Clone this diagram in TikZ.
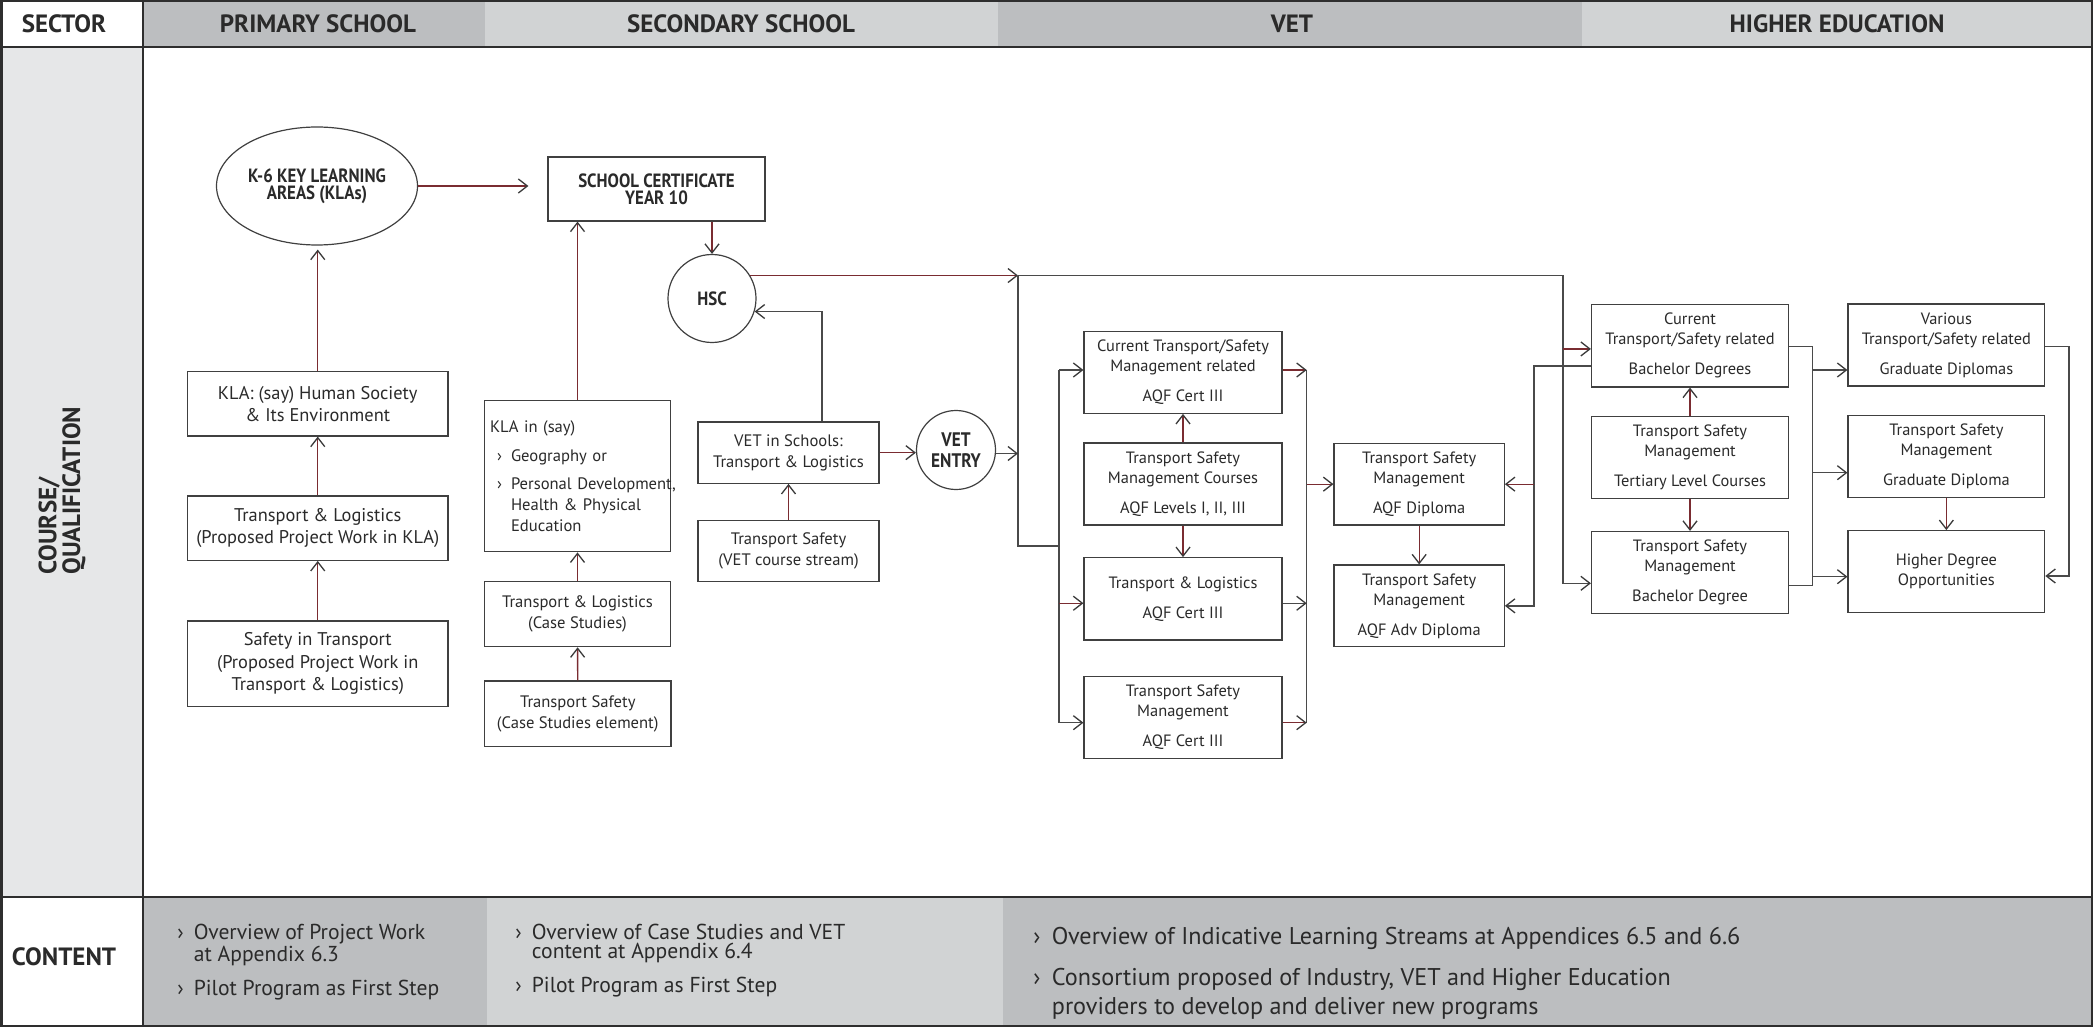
\documentclass[tikz,border=0pt]{standalone}
\usepackage{fontspec}
\setmainfont{PT Sans}
\newfontfamily\condfont{PT Sans}[FakeStretch=0.88]
\usetikzlibrary{arrows.meta,shapes.geometric,calc}

\definecolor{hdark}{HTML}{BCBEC0}
\definecolor{hlight}{HTML}{D1D3D4}
\definecolor{colbg}{HTML}{E6E7E8}
\definecolor{gridc}{HTML}{2E2E2E}
\definecolor{boxc}{HTML}{404040}
\definecolor{maroon}{HTML}{7A2C31}
\definecolor{darkl}{HTML}{4A4A4A}
\definecolor{tipc}{HTML}{3A3A3A}
\definecolor{txt}{HTML}{2A2A2A}

% bullet of a given width
\newcommand\bl[1]{\makebox[#1][l]{›}}

\tikzset{
  grid/.style={draw=gridc,line width=1.25pt},
  box/.style={draw=boxc,line width=0.6pt,fill=white,inner sep=0pt,align=center,text=txt},
  wh/.style 2 args={minimum width=#1*0.5pt,minimum height=#2*0.5pt},
  pA/.style={font=\fontsize{9.2}{11.2}\selectfont},
  pB/.style={font=\fontsize{8.3}{10.4}\selectfont},
  pC/.style={font=\fontsize{8.2}{10}\selectfont},
  ttl/.style={font=\condfont\bfseries\fontsize{9.6}{8.4}\selectfont},
  hdr/.style={font=\bfseries\fontsize{12.5}{11.8}\selectfont,text=txt,inner sep=0pt},
  ctA/.style={font=\fontsize{10.8}{9.4}\selectfont,text=txt,inner sep=0pt,align=left},
  ctB/.style={font=\fontsize{12.1}{14.2}\selectfont,text=txt,inner sep=0pt,align=left},
  mline/.style={draw=maroon,line width=0.65pt},
  gline/.style={draw=darkl,line width=0.65pt},
  arr/.style={-{Straight Barb[length=4.5pt,width=7pt,color=tipc]}}
}

\begin{document}
\begin{tikzpicture}[x=0.5pt,y=-0.5pt]
\useasboundingbox (0,0) rectangle (2093,1027);

% ---------- table frame ----------
\fill[white] (0,0) rectangle (2093,1027);
\fill[hdark]  (143,0) rectangle (485,47);
\fill[hlight] (485,0) rectangle (998,47);
\fill[hdark]  (998,0) rectangle (1582,47);
\fill[hlight] (1582,0) rectangle (2093,47);
\fill[colbg]  (0,47) rectangle (143,897);
\fill[hdark]  (143,897) rectangle (487,1027);
\fill[hlight] (487,897) rectangle (1003,1027);
\fill[hdark]  (1003,897) rectangle (2093,1027);
\draw[grid] (1.25,1.25) rectangle (2091.75,1025.75);
\draw[grid] (0,47) -- (2093,47);
\draw[grid] (0,897) -- (2093,897);
\draw[grid] (143,0) -- (143,1027);

% ---------- header and side labels ----------
\node[hdr] (hsector) at (64,24) {SECTOR};
\node[hdr] (hprim) at (318,24) {PRIMARY SCHOOL};
\node[hdr] (hsec) at (741,24) {SECONDARY SCHOOL};
\node[hdr] (hvet) at (1292,24) {VET};
\node[hdr] (hhe) at (1837,24) {HIGHER EDUCATION};
\node[hdr,rotate=90,anchor=west,align=left] (hcq) at (62,575) {COURSE/\\QUALIFICATION};
\node[hdr] (hcontent) at (64,957) {CONTENT};

% ---------- content row ----------
\node[ctA,anchor=north west] (cprim) at (177,924)
  {\bl{8.25pt}Overview of Project Work\\\hspace*{8.25pt}at Appendix 6.3\\[6.1pt]\bl{8.25pt}Pilot Program as First Step};
\node[ctA,anchor=north west] (csec) at (515,924)
  {\bl{8.25pt}Overview of Case Studies and VET\\\hspace*{8.25pt}content at Appendix 6.4\\[6.1pt]\bl{8.25pt}Pilot Program as First Step};
\node[ctB,anchor=north west] (cvet) at (1033,927)
  {\bl{9.25pt}Overview of Indicative Learning Streams at Appendices 6.5 and 6.6\\[6.4pt]\bl{9.25pt}Consortium proposed of Industry, VET and Higher Education\\\hspace*{9.25pt}providers to develop and deliver new programs};

% ---------- primary school ----------
\node[ellipse,draw=boxc,line width=0.6pt,fill=white,inner sep=0pt,wh={201}{118},align=center,ttl,text=txt] (k6) at (317,186) {K-6 KEY LEARNING\\AREAS (KLAs)};
\node[box,pA,wh={260.5}{64.3}] (hum) at (317.75,403.85) {KLA: (say) Human Society\\\& Its Environment};
\node[box,pA,wh={260.5}{64.3}] (tlp) at (317.75,528.15) {Transport \& Logistics\\(Proposed Project Work in KLA)};
\node[box,pA,wh={260.5}{85.7}] (sit) at (317.75,663.85) {Safety in Transport\\(Proposed Project Work in\\Transport \& Logistics)};

% ---------- secondary school ----------
\node[box,ttl,wh={217}{64}] (sc) at (656.5,189) {SCHOOL CERTIFICATE\\YEAR 10};
\node[circle,draw=boxc,line width=0.6pt,fill=white,inner sep=0pt,minimum size=88*0.5pt,ttl,text=txt] (hsc) at (712,298.5) {HSC};
\node[box,pB,align=left,inner xsep=2.75pt,text width=175*0.5pt,minimum height=151.6*0.5pt] (kla) at (577.5,476)
  {KLA in (say)\\[4pt]
   \mbox{\hspace*{3.5pt}\bl{7pt}Geography or}\\[4pt]
   \mbox{\hspace*{3.5pt}\bl{7pt}Personal Development,}\\
   \mbox{\hspace*{10.5pt}Health \& Physical}\\
   \mbox{\hspace*{10.5pt}Education}};
\node[box,pB,wh={186}{65}] (tlc) at (577.5,614.2) {Transport \& Logistics\\(Case Studies)};
\node[box,pB,wh={186.5}{65.7}] (tsc) at (577.75,713.85) {Transport Safety\\(Case Studies element)};
\node[box,pB,wh={181}{61.3}] (vets) at (788.5,452.65) {VET in Schools:\\Transport \& Logistics};
\node[box,pB,wh={181}{61}] (tsv) at (788.5,551.2) {Transport Safety\\(VET course stream)};
\node[circle,draw=boxc,line width=0.6pt,fill=white,inner sep=0pt,minimum size=79*0.5pt,align=center,text=txt,
      font=\condfont\bfseries\fontsize{9.8}{10.5}\selectfont] (ve) at (956,450) {VET\\ENTRY};

% ---------- VET ----------
\node[box,pC,wh={198}{81.8}] (cur) at (1183,372.4) {Current Transport/Safety\\Management related\\[5pt]AQF Cert III};
\node[box,pC,wh={198}{82}] (crs) at (1183,484) {Transport Safety\\Management Courses\\[5pt]AQF Levels I, II, III};
\node[box,pC,wh={198}{82.3}] (tl3) at (1183,598.85) {Transport \& Logistics\\[5pt]AQF Cert III};
\node[box,pC,wh={198}{81.6}] (tsm3) at (1183,717.5) {Transport Safety\\Management\\[5pt]AQF Cert III};
\node[box,pC,wh={170.3}{81.7}] (dip) at (1419.15,484.15) {Transport Safety\\Management\\[5pt]AQF Diploma};
\node[box,pC,wh={170.3}{81.7}] (adv) at (1419.15,605.85) {Transport Safety\\Management\\[5pt]AQF Adv Diploma};

% ---------- higher education ----------
\node[box,pC,wh={197}{82.5}] (cb) at (1690,345.75) {Current\\Transport/Safety related\\[5pt]Bachelor Degrees};
\node[box,pC,wh={197}{81.6}] (ter) at (1690,457.5) {Transport Safety\\Management\\[5pt]Tertiary Level Courses};
\node[box,pC,wh={197}{81.8}] (bd) at (1690,572.4) {Transport Safety\\Management\\[5pt]Bachelor Degree};
\node[box,pC,wh={196.7}{82}] (var) at (1946.35,345) {Various\\Transport/Safety related\\[5pt]Graduate Diplomas};
\node[box,pC,wh={196.7}{81.6}] (gd) at (1946.35,456.5) {Transport Safety\\Management\\[5pt]Graduate Diploma};
\node[box,pC,wh={196.7}{81.6}] (hd) at (1946.35,571.5) {Higher Degree\\Opportunities};

% ---------- bus lines ----------
\coordinate (busA) at (1018,0);
\coordinate (busB) at (1563,0);
\coordinate (busC) at (1059,0);
\coordinate (busD) at (1306.7,0);
\coordinate (busE) at (1534,0);
\coordinate (busF) at (1812.7,0);
\coordinate (busG) at (2069,0);
\coordinate (J1) at (hsc.31 -| busA);
\coordinate (J2) at (1018,546);

\coordinate (curin) at ([yshift=1.2pt]cur.west);
\coordinate (tl3in) at ([yshift=-2.2pt]tl3.west);
\coordinate (tsmin) at ([yshift=-2.6pt]tsm3.west);
\coordinate (curout) at ([yshift=1.2pt]cur.east);
\coordinate (tl3out) at ([yshift=-2.2pt]tl3.east);
\coordinate (tsmout) at ([yshift=-2.6pt]tsm3.east);
\coordinate (cbin) at ([yshift=-1.6pt]cb.west);
\coordinate (cbback) at ([yshift=-10.1pt]cb.west);
\coordinate (bdin) at ([yshift=-5.45pt]bd.west);
\coordinate (cbout) at ([yshift=-0.5pt]cb.east);
\coordinate (bdout) at ([yshift=-6.65pt]bd.east);
\coordinate (varin) at ([yshift=-12.5pt]var.west);
\coordinate (gdin) at ([yshift=-8.1pt]gd.west);
\coordinate (hdin) at ([yshift=-2.6pt]hd.west);
\coordinate (varout) at ([yshift=-0.85pt]var.east);
\coordinate (hdback) at ([yshift=-2.25pt]hd.east);

% ---------- primary connectors ----------
\draw[mline,arr,shorten >=9.5pt] (k6.east) -- (k6.east -| sc.west);
\draw[mline,arr,shorten >=2pt] (hum.north) -- (hum.north |- k6.south);
\draw[mline,arr] (tlp) -- (hum);
\draw[mline,arr] (sit) -- (tlp);

% ---------- secondary connectors ----------
\draw[mline,arr] (kla.north) -- (kla.north |- sc.south);
\draw[mline,arr] (tlc) -- (kla);
\draw[mline,arr] (tsc) -- (tlc);
\draw[mline,arr] (sc.south -| hsc.north) -- (hsc.north);
\draw[mline,arr] (tsv) -- (vets);
\draw[mline,arr] (vets.east) -- (vets.east -| ve.west);
\draw[gline,arr] ([xshift=16.75pt]vets.north) |- (hsc.343);
\draw[mline,arr] (hsc.31) -- (J1);

% ---------- VET connectors ----------
\draw[gline] (J1) -- (J2) -- (J2 -| busC);
\draw[gline,arr] (ve.355) -- (ve.355 -| busA);
\draw[gline] (busC |- curin) -- (busC |- tsmin);
\draw[gline,arr] (busC |- curin) -- (curin);
\draw[mline,arr] (busC |- tl3in) -- (tl3in);
\draw[gline,arr] (busC |- tsmin) -- (tsmin);
\draw[mline,arr] (crs) -- (cur);
\draw[mline,arr] (crs) -- (tl3);
\draw[gline] (busD |- curout) -- (busD |- tsmout);
\draw[mline,arr] (curout) -- (busD |- curout);
\draw[gline,arr] (tl3out) -- (busD |- tl3out);
\draw[mline,arr] (tsmout) -- (busD |- tsmout);
\draw[mline,arr] (busD |- dip.west) -- (dip.west);
\draw[mline,arr] (dip) -- (adv);

% ---------- higher education connectors ----------
\draw[gline,arr] (J1) -| (busB |- bdin) -- (bdin);
\draw[mline,arr] (busB |- cbin) -- (cbin);
\draw[gline,arr] (cbback) -| (busE |- adv.east) -- (adv.east);
\draw[mline,arr] (busE |- dip.east) -- (dip.east);
\draw[mline,arr] (ter) -- (cb);
\draw[mline,arr] (ter) -- (bd);
\draw[gline] (cbout) -| (busF |- bdout) -- (bdout);
\draw[gline,arr] (busF |- varin) -- (varin);
\draw[gline,arr] (busF |- gdin) -- (gdin);
\draw[gline,arr] (busF |- hdin) -- (hdin);
\draw[gline,arr] (varout) -| (busG |- hdback) -- (hdback);
\draw[mline,arr] (gd) -- (hd);
\end{tikzpicture}
\end{document}
